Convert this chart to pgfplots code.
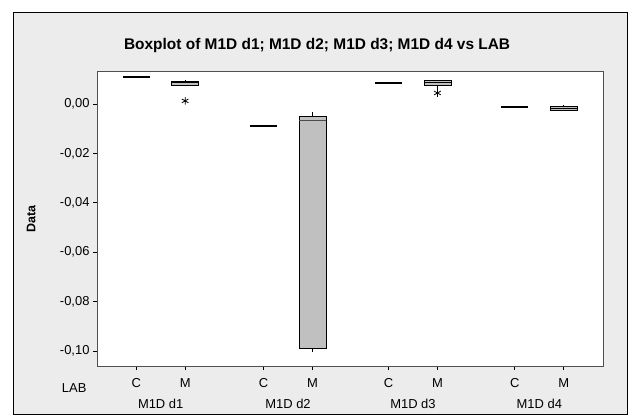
\documentclass[border=0pt]{standalone}
\usepackage{fontspec}
\setmainfont{Liberation Sans}
\usepackage{pgfplots}
\pgfplotsset{compat=1.18}
\definecolor{panel}{RGB}{236,236,236}
\definecolor{boxfill}{RGB}{192,192,192}
\definecolor{axisline}{RGB}{80,80,80}

\begin{document}
\begin{tikzpicture}
\useasboundingbox (0bp,0bp) rectangle (634bp,417bp);
\fill[white] (0bp,0bp) rectangle (634bp,417bp);
\filldraw[fill=panel, draw=black, line width=0.8bp] (13bp,3bp) rectangle (627bp,405bp);
\begin{axis}[
  at={(97bp,51bp)}, anchor=south west,
  scale only axis, width=506bp, height=294bp,
  xmin=-0.8, xmax=9.53, ymin=-0.1061, ymax=0.0130,
  axis background/.style={fill=white},
  axis line style={draw=axisline, line width=1bp},
  xtick={0,1,2.6,3.6,5.15,6.15,7.73,8.73},
  xticklabels={C,M,C,M,C,M,C,M},
  xticklabel style={yshift=-5bp},
  extra x ticks={0.5,3.1,5.65,8.23},
  extra x tick labels={M1D d1,M1D d2,M1D d3,M1D d4},
  extra x tick style={major tick length=0bp, tick label style={yshift=-25bp}},
  ytick={-0.1,-0.08,-0.06,-0.04,-0.02,0},
  yticklabels={{-0,10},{-0,08},{-0,06},{-0,04},{-0,02},{0,00}},
  xtick pos=bottom, ytick pos=left,
  tick align=outside, major tick length=4bp,
  tick style={draw=black, line width=0.8bp},
  tick label style={font=\fontsize{13}{15}\selectfont},
  title={Boxplot of M1D d1; M1D d2; M1D d3; M1D d4 vs LAB},
  title style={font=\bfseries\fontsize{15.5}{18}\selectfont, at={(0.435,1)}, anchor=center, yshift=21bp},
  ylabel={Data},
  ylabel style={font=\bfseries\fontsize{12.5}{14}\selectfont, at={(axis description cs:-0.130,0.5)}, anchor=center},
  clip=false,
  cycle list={{black, mark=none}},
  every axis plot/.append style={line width=0.8bp, black, mark=none},
]
% C groups (all values nearly equal: flat boxes)
\addplot[line width=2.6bp] coordinates {(-0.275,0.0109) (0.275,0.0109)};
\addplot[line width=2.6bp] coordinates {(2.325,-0.0089) (2.875,-0.0089)};
\addplot[line width=2.6bp] coordinates {(4.875,0.0085) (5.425,0.0085)};
\addplot[line width=2.6bp] coordinates {(7.455,-0.0012) (8.005,-0.0012)};
% M d1
\addplot coordinates {(1,0.0073) (1,0.0097)};
\addplot[fill=boxfill] coordinates {(0.725,0.0077) (1.275,0.0077) (1.275,0.0093) (0.725,0.0093)} -- cycle;
\addplot coordinates {(0.725,0.0086) (1.275,0.0086)};
% M d2
\addplot coordinates {(3.6,-0.1004) (3.6,-0.0032)};
\addplot[fill=boxfill] coordinates {(3.325,-0.0988) (3.875,-0.0988) (3.875,-0.0048) (3.325,-0.0048)} -- cycle;
\addplot[line width=1.2bp, black!70] coordinates {(3.325,-0.0065) (3.875,-0.0065)};
% M d3
\addplot coordinates {(6.15,0.0057) (6.15,0.0099)};
\addplot[fill=boxfill] coordinates {(5.875,0.0077) (6.425,0.0077) (6.425,0.0096) (5.875,0.0096)} -- cycle;
\addplot coordinates {(5.875,0.0086) (6.425,0.0086)};
% M d4
\addplot coordinates {(8.73,-0.0027) (8.73,-0.0005)};
\addplot[fill=boxfill] coordinates {(8.455,-0.0024) (9.005,-0.0024) (9.005,-0.0008) (8.455,-0.0008)} -- cycle;
\addplot coordinates {(8.455,-0.0016) (9.005,-0.0016)};
% outliers
\addplot[only marks, mark=asterisk, mark size=3.8bp, mark options={line width=0.8bp}]
  coordinates {(1,0.0013) (6.15,0.0045)};
\node[font=\fontsize{13}{15}\selectfont, anchor=base] at (rel axis cs:-0.045,0) [yshift=-26bp] {LAB};
\end{axis}
\end{tikzpicture}
\end{document}
